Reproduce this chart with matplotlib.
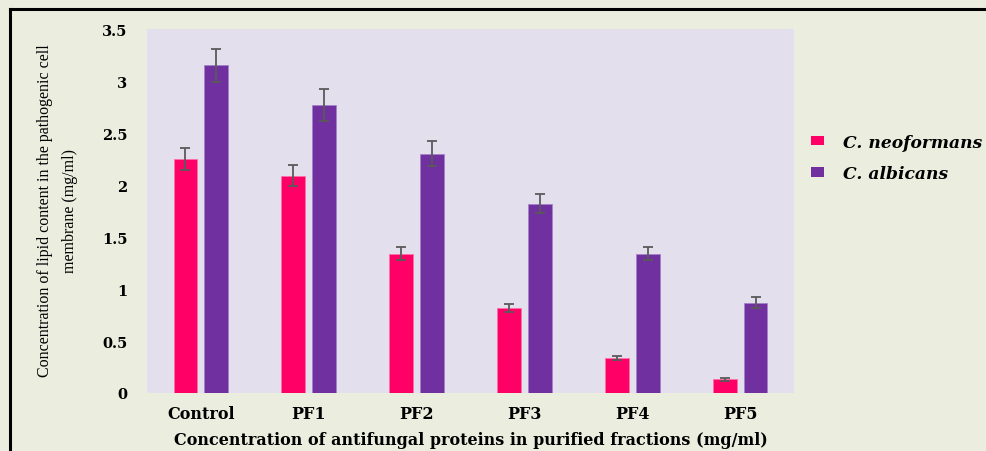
import matplotlib
matplotlib.use("Agg")
import matplotlib.pyplot as plt
from matplotlib.lines import Line2D
from matplotlib.patches import Patch
import numpy as np

categories = ["Control", "PF1", "PF2", "PF3", "PF4", "PF5"]
neoformans = [2.25, 2.09, 1.34, 0.82, 0.34, 0.13]
neoformans_err = [0.11, 0.10, 0.06, 0.04, 0.02, 0.01]
albicans = [3.15, 2.77, 2.30, 1.82, 1.34, 0.87]
albicans_err = [0.16, 0.15, 0.12, 0.09, 0.06, 0.05]
series_labels = ["C. neoformans", "C. albicans"]
yticks = [0, 0.5, 1, 1.5, 2, 2.5, 3, 3.5]
ytick_labels = ["0", "0.5", "1", "1.5", "2", "2.5", "3", "3.5"]

c_neo = "#FF0066"
c_alb = "#7030A0"
bg = "#EBEEDF"
plot_bg = "#E4DFEC"
err_c = "#5A5A5A"

W, H = 987, 452
fig = plt.figure(figsize=(W / 100, H / 100), dpi=100, facecolor=bg)
ax = fig.add_axes([147 / W, 1 - 394 / H, (794 - 147) / W, (394 - 30) / H])
ax.set_facecolor(plot_bg)

x = np.arange(len(categories))
bw = 0.222
off = 0.143
ax.bar(x - off, neoformans, bw, color=c_neo, edgecolor="#FF6FA6", linewidth=0.6,
       yerr=neoformans_err, error_kw=dict(ecolor=err_c, elinewidth=1.3, capsize=3.3, capthick=1.3),
       label=series_labels[0], zorder=2)
ax.bar(x + off, albicans, bw, color=c_alb, edgecolor="#A383C6", linewidth=0.6,
       yerr=albicans_err, error_kw=dict(ecolor=err_c, elinewidth=1.3, capsize=3.3, capthick=1.3),
       label=series_labels[1], zorder=2)

ax.set_xlim(-0.5, len(categories) - 0.5)
ax.set_ylim(0, 3.5)
for s in ax.spines.values():
    s.set_visible(False)
ax.set_yticks(yticks)
ax.set_yticklabels(ytick_labels, fontfamily="DejaVu Serif", fontweight="bold", fontsize=10.5)
ax.set_xticks(x)
ax.set_xticklabels(categories, fontfamily="DejaVu Serif", fontweight="bold", fontsize=11.5)
ax.tick_params(axis="y", length=0, pad=14)
ax.tick_params(axis="x", length=0, pad=9)

ax.set_xlabel("Concentration of antifungal proteins in purified fractions (mg/ml)",
              fontfamily="DejaVu Serif", fontweight="bold", fontsize=11.5, labelpad=6)

fig.text(58 / W, 1 - 211 / H,
         "Concentration of lipid content in the pathogenic cell\nmembrane (mg/ml)",
         rotation=90, ha="center", va="center", multialignment="center",
         fontfamily="Liberation Serif", fontsize=11.5, linespacing=1.75)

handles = [Patch(facecolor=c_neo), Patch(facecolor=c_alb)]
leg = fig.legend(handles, series_labels, loc="center left",
                 bbox_to_anchor=(811 / W, 1 - 159 / H), frameon=False,
                 prop=dict(family="DejaVu Serif", style="italic", weight="bold", size=12.3),
                 handlelength=0.78, handleheight=0.47, handletextpad=1.1,
                 labelspacing=0.85, borderpad=0, borderaxespad=0)

# outer frame (left and top edges)
fig.add_artist(Line2D([10 / W, 10 / W], [0, 1 - 10 / H], color="black", lw=2.2,
                      transform=fig.transFigure))
fig.add_artist(Line2D([10 / W, 1], [1 - 10 / H, 1 - 10 / H], color="black", lw=2.2,
                      transform=fig.transFigure))

fig.savefig("out.png", dpi=100, facecolor=bg)
